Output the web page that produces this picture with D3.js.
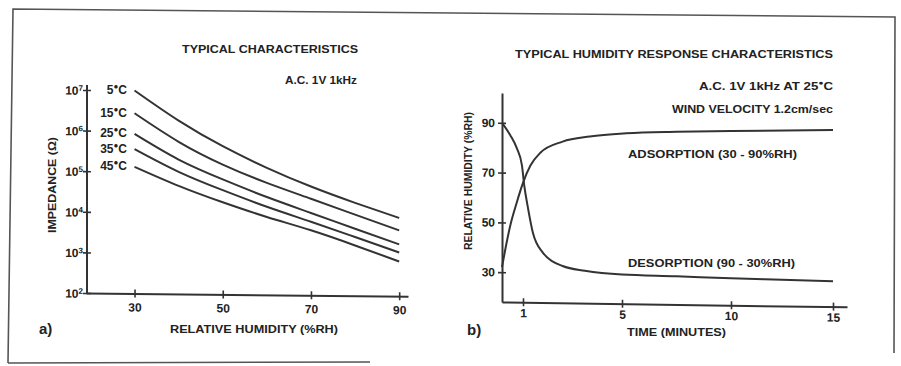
<!DOCTYPE html>
<html>
<head>
<meta charset="utf-8">
<script src="https://d3js.org/d3.v7.min.js"></script>
<style>
  body { margin: 0; background: #fff; }
  svg { display: block; }
</style>
</head>
<body>
<svg width="901" height="366"></svg>
<script>
// ---- data ----
// a) impedance vs relative humidity, one series per temperature
var humidity = [30, 40, 50, 60, 70, 80, 90];
var tempLabels = ["5", "15", "25", "35", "45"];
var imp5  = [1.0e7, 1.86e6, 4.47e5, 1.35e5, 4.79e4, 1.95e4, 8.5e3];
var imp15 = [2.75e6, 5.6e5, 1.58e5, 5.75e4, 2.4e4, 1.0e4, 4.2e3];
var imp25 = [8.5e5, 2.04e5, 6.8e4, 2.57e4, 1.07e4, 4.47e3, 1.9e3];
var imp35 = [3.6e5, 1.02e5, 3.7e4, 1.48e4, 6.5e3, 2.8e3, 1.2e3];
var imp45 = [1.32e5, 4.6e4, 1.86e4, 8.3e3, 4.0e3, 1.74e3, 7.2e2];
var impTicks = [1e2, 1e3, 1e4, 1e5, 1e6, 1e7];
var humTicks = [30, 50, 70, 90];

// b) response in time
var timeAds = [0, 0.2, 0.4, 0.7, 1.0, 1.3, 1.7, 2.6, 3.7, 5.2, 7.5, 10, 15];
var rhAds   = [32, 41, 49, 58, 66, 73, 78.2, 82.8, 85, 86.5, 87.4, 88, 89];
var timeDes = [0, 0.4, 0.7, 0.95, 1.05, 1.2, 1.4, 1.8, 2.6, 3.5, 5, 7.5, 10, 12.5, 15];
var rhDes   = [90, 85, 80, 73, 65, 56, 46, 38.1, 32.8, 31, 29.7, 29.3, 28.8, 28.5, 28.2];
var timeTicks = [1, 5, 10, 15];
var rhTicks = [30, 50, 70, 90];

var ink = "#333",
    textInk = "#222";
var font = "'Liberation Sans Narrow','Liberation Sans',Arial,sans-serif";

var svg = d3.select("svg");

// scanned page frame
svg.append("path")
    .attr("d", "M8,363 L13,9 L895,17 L894,353 M8,363 L370,362")
    .attr("fill", "none")
    .attr("stroke", "#555")
    .attr("stroke-width", 1.6);

// helper for plain labels
function label(x, y, txt, len, size) {
  var t = svg.append("text")
      .attr("x", x).attr("y", y)
      .attr("font-family", font)
      .attr("font-weight", "bold")
      .attr("font-size", size || 11)
      .attr("fill", textInk)
      .text(txt);
  if (len) t.attr("textLength", len).attr("lengthAdjust", "spacingAndGlyphs");
  return t;
}

// style an axis: crossing ticks, thick line
function styleAxis(g, vertical) {
  g.select(".domain").attr("stroke", ink).attr("stroke-width", 2);
  g.selectAll(".tick line").attr("stroke", ink).attr("stroke-width", 1.6);
  if (vertical) g.selectAll(".tick line").attr("x1", 4);
  else g.selectAll(".tick line").attr("y1", -4);
  g.selectAll(".tick text")
      .attr("fill", textInk)
      .attr("font-family", font)
      .attr("font-weight", "bold")
      .attr("font-size", 12);
}

// ================= a) =================
var x = d3.scaleLinear().domain([19, 92]).range([86, 408]),
    y = d3.scaleLog().domain([1e2, 1e7]).range([293, 90]);

var left = svg.append("g")
    .attr("transform", "translate(87,0) skewY(0.6) translate(-87,0)");

var xAxisA = left.append("g")
    .attr("transform", "translate(0,293)")
    .call(d3.axisBottom(x).tickValues(humTicks).tickSize(4).tickSizeOuter(0));
styleAxis(xAxisA, false);
xAxisA.selectAll(".tick text").attr("y", 18).attr("dy", 0);

var yAxisA = left.append("g")
    .attr("transform", "translate(87,0)")
    .call(d3.axisLeft(y).tickValues(impTicks).tickSize(4).tickSizeOuter(0));
styleAxis(yAxisA, true);
yAxisA.select(".domain").remove();
yAxisA.append("line")
    .attr("y1", y.range()[0]).attr("y2", y.range()[1] - 5)
    .attr("stroke", ink).attr("stroke-width", 2);
yAxisA.selectAll(".tick text").each(function(d) {
  var t = d3.select(this).text("").attr("x", -4).attr("dy", "0.36em");
  t.append("tspan").text("10");
  t.append("tspan").attr("dy", "-0.5em").attr("font-size", 8)
      .text(Math.round(Math.log10(d)));
});

var impSeries = [imp5, imp15, imp25, imp35, imp45];
var lineA = d3.line()
    .x(function(d) { return x(d[0]); })
    .y(function(d) { return y(d[1]); })
    .curve(d3.curveNatural);

left.selectAll(".imp")
    .data(impSeries)
  .enter().append("path")
    .attr("class", "imp")
    .attr("fill", "none")
    .attr("stroke", ink)
    .attr("stroke-width", 2)
    .attr("d", function(s) { return lineA(d3.zip(humidity, s)); });

// temperature labels next to curve starts
impSeries.forEach(function(s, i) {
  var t = svg.append("text")
      .attr("x", 127).attr("y", y(s[0]) + 4)
      .attr("text-anchor", "end")
      .attr("font-family", font).attr("font-weight", "bold")
      .attr("font-size", 12).attr("fill", textInk);
  t.append("tspan").text(tempLabels[i]);
  t.append("tspan").attr("dy", -5).attr("font-size", 8).text("\u25CF");
  t.append("tspan").attr("dy", 5).text("C");
});

label(182, 53, "TYPICAL CHARACTERISTICS", 176);
label(285, 84, "A.C.  1V  1kHz", 72);
label(170, 333, "RELATIVE HUMIDITY (%RH)", 168);
label(0, 0, "IMPEDANCE (\u03A9)", 96)
    .attr("text-anchor", "middle")
    .attr("transform", "translate(56,185) rotate(-90)");
label(39, 334, "a)", null, 15).attr("font-family", "'Liberation Sans',Arial,sans-serif");

// ================= b) =================
var t = d3.scaleLinear().domain([0, 1, 5, 10, 15, 15.7]).range([502, 523, 622, 731, 833, 847]),
    r = d3.scaleLinear().domain([18, 102]).range([302, 93]);

var right = svg.append("g")
    .attr("transform", "translate(502,0) skewY(0.8) translate(-502,0)");

var xAxisB = right.append("g")
    .attr("transform", "translate(0,302)")
    .call(d3.axisBottom(t).tickValues(timeTicks).tickSize(4).tickSizeOuter(0));
styleAxis(xAxisB, false);
xAxisB.selectAll(".tick text").attr("y", 15).attr("dy", 0);

var yAxisB = right.append("g")
    .attr("transform", "translate(502,0)")
    .call(d3.axisLeft(r).tickValues(rhTicks).tickSize(4).tickSizeOuter(0));
styleAxis(yAxisB, true);
yAxisB.selectAll(".tick text").attr("x", -7);

var lineB = d3.line()
    .x(function(d) { return t(d[0]); })
    .y(function(d) { return r(d[1]); })
    .curve(d3.curveMonotoneX);

right.append("path")
    .attr("fill", "none").attr("stroke", ink).attr("stroke-width", 2)
    .attr("d", lineB(d3.zip(timeAds, rhAds)));
right.append("path")
    .attr("fill", "none").attr("stroke", ink).attr("stroke-width", 2)
    .attr("d", lineB(d3.zip(timeDes, rhDes)));

label(515, 58, "TYPICAL HUMIDITY RESPONSE CHARACTERISTICS", 318);
var sub = label(699, 90, "A.C.  1V  1kHz AT 25", null);
sub.append("tspan").attr("dy", -5).attr("font-size", 7).text("\u25CF");
sub.append("tspan").attr("dy", 5).text("C");
sub.attr("textLength", 134).attr("lengthAdjust", "spacingAndGlyphs");
label(672, 113, "WIND VELOCITY 1.2cm/sec", 161);
label(628, 158, "ADSORPTION (30 - 90%RH)", 169);
label(628, 267, "DESORPTION (90 - 30%RH)", 167);
label(627, 336, "TIME (MINUTES)", 99);
label(0, 0, "RELATIVE HUMIDITY (%RH)", 138)
    .attr("text-anchor", "middle")
    .attr("transform", "translate(472,181) rotate(-90)");
label(467, 335, "b)", null, 15).attr("font-family", "'Liberation Sans',Arial,sans-serif");
</script>
</body>
</html>
